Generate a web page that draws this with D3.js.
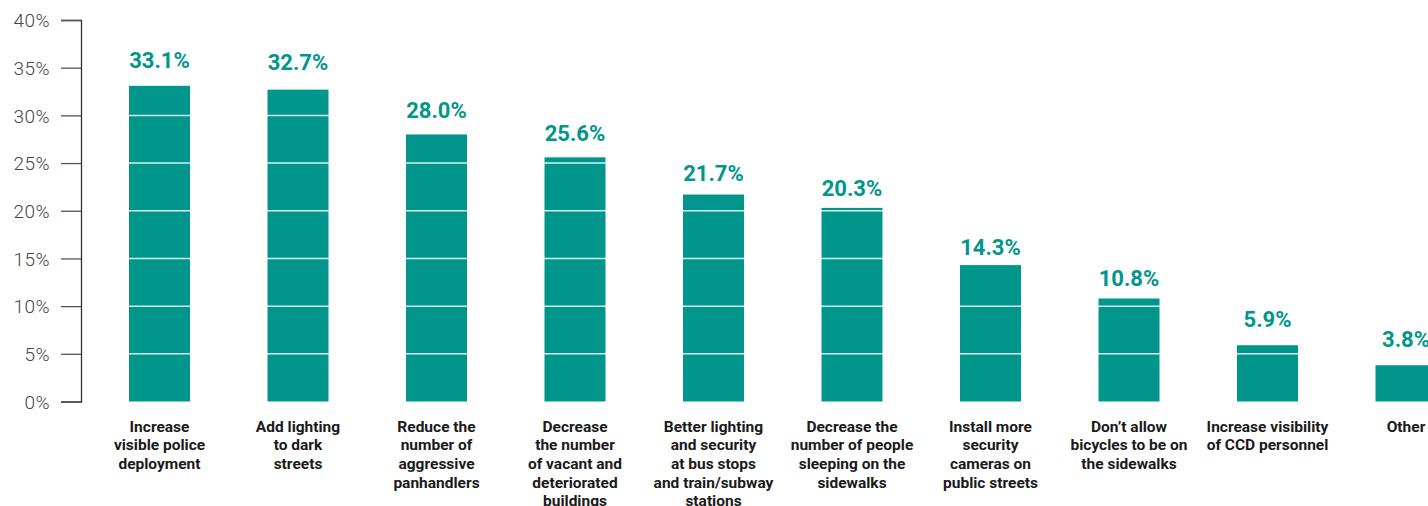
<!DOCTYPE html>
<html>
<head>
<meta charset="utf-8">
<script src="https://cdn.jsdelivr.net/npm/d3@7"></script>
<style>
  html, body { margin: 0; padding: 0; background: #fff; overflow: hidden; }
  svg { display: block; }
</style>
</head>
<body>
<svg id="chart" width="1428" height="506"></svg>
<script>
// Survey responses: suggested measures to improve safety
const categories = [
  "Increase\nvisible police\ndeployment",
  "Add lighting\nto dark\nstreets",
  "Reduce the\nnumber of\naggressive\npanhandlers",
  "Decrease\nthe number\nof vacant and\ndeteriorated\nbuildings",
  "Better lighting\nand security\nat bus stops\nand train/subway\nstations",
  "Decrease the\nnumber of people\nsleeping on the\nsidewalks",
  "Install more\nsecurity\ncameras on\npublic streets",
  "Don\u2019t allow\nbicycles to be on\nthe sidewalks",
  "Increase visibility\nof CCD personnel",
  "Other"
];
const values = [33.1, 32.7, 28.0, 25.6, 21.7, 20.3, 14.3, 10.8, 5.9, 3.8];
const yTicks = [0, 5, 10, 15, 20, 25, 30, 35, 40];

const teal = "#00968B";
const svg = d3.select("#chart");

const y = d3.scaleLinear().domain([0, 40]).range([401.5, 20]);
const x = d3.scalePoint().domain(categories).range([159.5, 1406]);
const barWidth = 61;

// Gap (px) between each bar top and the baseline of its value label
const labelGap = [18, 20, 16, 16, 14, 12, 10, 12, 18, 18];

// Bars
svg.append("g").selectAll("rect")
  .data(values)
  .join("rect")
  .attr("x", (d, i) => x(categories[i]) - barWidth / 2)
  .attr("y", d => y(d))
  .attr("width", barWidth)
  .attr("height", d => y(0) - y(d))
  .attr("fill", teal);

// White gridlines cutting across the bars
svg.append("g").selectAll("line")
  .data(yTicks.filter(t => t > 0))
  .join("line")
  .attr("x1", 82).attr("x2", 1428)
  .attr("y1", d => y(d)).attr("y2", d => y(d))
  .attr("stroke", "#ffffff")
  .attr("stroke-opacity", 0.85)
  .attr("stroke-width", 1.5);

// Y axis
const axis = d3.axisLeft(y)
  .tickValues(yTicks)
  .tickFormat(d => d + "%")
  .tickSize(20)
  .tickPadding(11);
const gAxis = svg.append("g")
  .attr("transform", "translate(81,0)")
  .call(axis);
gAxis.select(".domain").attr("stroke", "#333").attr("stroke-width", 1.3);
gAxis.selectAll(".tick line").attr("stroke", "#555").attr("stroke-width", 1.3);
gAxis.selectAll(".tick text")
  .attr("fill", "#444")
  .style("font-family", "Roboto, 'Liberation Sans', sans-serif")
  .style("font-weight", 300)
  .style("font-size", "19px")
  .style("letter-spacing", "0.5px")
  .attr("dy", "0.36em");

// Value labels
svg.append("g").selectAll("text")
  .data(values)
  .join("text")
  .attr("x", (d, i) => x(categories[i]))
  .attr("y", (d, i) => y(d) - labelGap[i])
  .attr("text-anchor", "middle")
  .attr("fill", teal)
  .style("font-family", "Roboto, 'Liberation Sans', sans-serif")
  .style("font-weight", 700)
  .style("font-size", "22px")
  .text(d => d.toFixed(1) + "%");

// Category labels
const labels = svg.append("g").selectAll("text")
  .data(categories)
  .join("text")
  .attr("text-anchor", "middle")
  .attr("fill", "#1a1a1a")
  .style("font-family", "Roboto, 'Liberation Sans', sans-serif")
  .style("font-weight", 700)
  .style("font-size", "15.5px");
labels.each(function(d) {
  const t = d3.select(this);
  d.split("\n").forEach((line, j) => {
    t.append("tspan")
      .attr("x", x(d))
      .attr("y", 431.5 + j * 18.7)
      .text(line);
  });
});
</script>
</body>
</html>
